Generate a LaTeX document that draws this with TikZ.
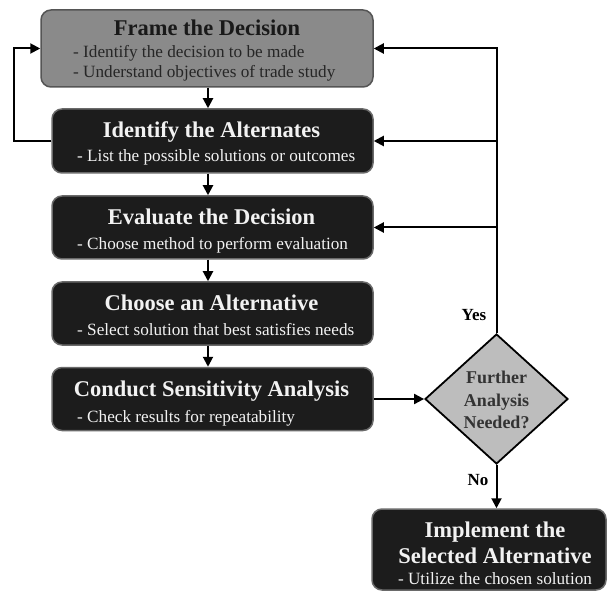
\documentclass[tikz,border=0pt]{standalone}
\usepackage{fontspec}
\setmainfont{Liberation Serif}
\usetikzlibrary{shapes.geometric,arrows.meta}
\definecolor{boxdark}{HTML}{1C1C1C}
\definecolor{boxedge}{HTML}{6A6A6A}
\definecolor{framefill}{HTML}{8A8A8A}
\definecolor{frameedge}{HTML}{555555}
\definecolor{diafill}{HTML}{BDBDBD}
\definecolor{lighttext}{HTML}{F2F2F2}
\tikzset{
  darkbox/.style={rectangle, rounded corners=10pt, fill=boxdark, draw=boxedge, line width=1.5pt, inner sep=0pt},
  framebox/.style={rectangle, rounded corners=10pt, fill=framefill, draw=frameedge, line width=1.5pt, inner sep=0pt},
  decision/.style={diamond, fill=diafill, draw=black, line width=1.8pt, inner sep=0pt, minimum width=143pt, minimum height=130pt},
  titletext/.style={inner sep=0pt, anchor=base, font=\fontsize{22.5}{25}\selectfont\bfseries},
  subtext/.style={inner sep=0pt, anchor=base west, font=\fontsize{17.2}{20}\selectfont},
  labeltext/.style={inner sep=0pt, font=\fontsize{17}{20}\selectfont\bfseries},
  arr/.style={line width=2pt, -{Triangle[length=10pt,width=10pt]}}
}
\begin{document}
\begin{tikzpicture}[x=1pt,y=-1pt]
\useasboundingbox (0,0) rectangle (610,593);
% boxes
\node[framebox, minimum width=332pt, minimum height=77pt] (frame) at (207,48.5) {};
\node[darkbox, minimum width=321pt, minimum height=64pt] (ident) at (212.5,141) {};
\node[darkbox, minimum width=321pt, minimum height=63pt] (eval) at (212.5,227.5) {};
\node[darkbox, minimum width=321pt, minimum height=63pt] (choose) at (212.5,313.5) {};
\node[darkbox, minimum width=321pt, minimum height=63pt] (conduct) at (212.5,399) {};
\node[decision] (dia) at (496.5,399) {};
\node[darkbox, minimum width=234pt, minimum height=81pt] (impl) at (489,549.5) {};
% texts
\node[titletext, text=black!90] (t1) at (207,36) {Frame the Decision};
\node[subtext, text=black!85] (s1a) at (73,58) {- Identify the decision to be made};
\node[subtext, text=black!85] (s1b) at (73,78) {- Understand objectives of trade study};
\node[titletext, text=lighttext] (t2) at (211.5,138) {Identify the Alternates};
\node[subtext, text=lighttext] (s2) at (77,162) {- List the possible solutions or outcomes};
\node[titletext, text=lighttext] (t3) at (211.5,225) {Evaluate the Decision};
\node[subtext, text=lighttext] (s3) at (77,250) {- Choose method to perform evaluation};
\node[titletext, text=lighttext] (t4) at (211.5,311) {Choose an Alternative};
\node[subtext, text=lighttext] (s4) at (77,336) {- Select solution that best satisfies needs};
\node[titletext, text=lighttext] (t5) at (211.5,396) {Conduct Sensitivity Analysis};
\node[subtext, text=lighttext] (s5) at (77,422) {- Check results for repeatability};
\node[inner sep=0pt, anchor=base, text=black!80, font=\fontsize{18}{23}\selectfont\bfseries] (d1) at (496.5,383) {Further};
\node[inner sep=0pt, anchor=base, text=black!80, font=\fontsize{18}{23}\selectfont\bfseries] (d2) at (496.5,406) {Analysis};
\node[inner sep=0pt, anchor=base, text=black!80, font=\fontsize{18}{23}\selectfont\bfseries] (d3) at (496.5,428) {Needed?};
\node[titletext, text=lighttext] (t6a) at (495,537) {Implement the};
\node[titletext, text=lighttext] (t6b) at (495,563) {Selected Alternative};
\node[subtext, anchor=base, text=lighttext] (s6) at (495,584) {- Utilize the chosen solution};
\node[labeltext] (yes) at (474,315) {Yes};
\node[labeltext] (no) at (478,480) {No};
% connectors
\coordinate (col) at (208,0);
\coordinate (loopx) at (14,0);
\draw[arr] (col |- frame.south) -- (col |- ident.north);
\draw[arr] (col |- ident.south) -- (col |- eval.north);
\draw[arr] (col |- eval.south) -- (col |- choose.north);
\draw[arr] (col |- choose.south) -- (col |- conduct.north);
\draw[arr] (conduct.east) -- (dia.west);
\draw[arr] (dia.north) -- (dia.north |- frame.east) -- (frame.east);
\draw[arr] (dia.north |- ident.east) -- (ident.east);
\draw[arr] (dia.north |- eval.east) -- (eval.east);
\draw[arr] (dia.south) -- (dia.south |- impl.north);
\draw[arr] (ident.west) -- (ident.west -| loopx) -- (loopx |- frame.west) -- (frame.west);
\end{tikzpicture}
\end{document}
